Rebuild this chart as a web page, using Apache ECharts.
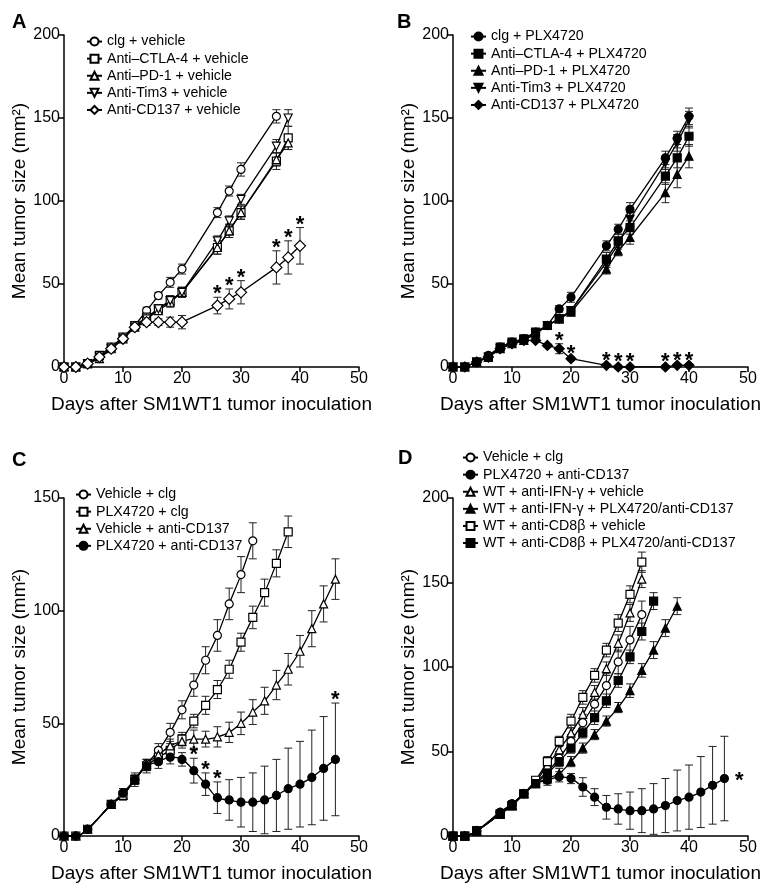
<!DOCTYPE html>
<html><head><meta charset="utf-8">
<script src="https://cdn.jsdelivr.net/npm/echarts@6/dist/echarts.min.js"></script>
<style>html,body{margin:0;padding:0;background:#fff}#c{width:775px;height:892px}</style>
</head><body><div id="c"></div>
<script>
// ---------- DATA ----------
const daysAB = [0,2,4,6,8,10,12,14,16,18,20,26,28,30,36,38,40];
const daysCD = [0,2,4,8,10,12,14,16,18,20,22,24,26,28,30,32,34,36,38,40,42,44,46];
const xTicks = [0,10,20,30,40,50];

// Panel A
const A_names = ['clg + vehicle','Anti\u2013CTLA-4 + vehicle','Anti\u2013PD-1 + vehicle','Anti-Tim3 + vehicle','Anti-CD137 + vehicle'];
const A_clg    = [0,0,2,6,11,17,25,34,43,51,59,93,106,119,151,null,null];
const A_clgE   = [0,0,1,1,1,1,1,2,2,3,3,3,3,4,4,null,null];
const A_ctla   = [0,0,2,7,12,18,25,30,35,40,45,72,82,93,124,138,null];
const A_ctlaE  = [0,0,1,1,1,1,1,2,2,3,3,4,4,4,5,7,null];
const A_pd1    = [0,0,2,5,11,17,24,29,34,39,45,72,82,93,125,135,null];
const A_pd1E   = [0,0,1,1,1,1,1,2,2,3,3,4,4,4,4,4,null];
const A_tim3   = [0,0,2,6,11,17,24,29,35,40,45,76,88,101,133,150,null];
const A_tim3E  = [0,0,1,1,1,1,1,2,2,3,3,3,3,3,4,5,null];
const A_cd137  = [0,0,2,6,11,17,24,27,27,27,27,37,41,45,60,66,73];
const A_cd137E = [0,0,1,1,1,1,1,2,2,3,4,5,6,7,10,10,11];
const A_stars  = [26,28,30,36,38,40];

// Panel B
const B_names = ['clg + PLX4720','Anti\u2013CTLA-4 + PLX4720','Anti\u2013PD-1 + PLX4720','Anti-Tim3 + PLX4720','Anti-CD137 + PLX4720'];
const B_clg    = [0,0,3,7,12,15,17,21,25,35,42,73,83,95,126,138,151];
const B_clgE   = [0,0,1,1,1,1,1,1,1,2,3,3,3,4,4,4,5];
const B_ctla   = [0,0,3,6,12,15,17,21,25,29,34,65,76,84,115,126,139];
const B_ctlaE  = [0,0,1,1,1,1,1,1,1,1,2,4,4,4,5,6,6];
const B_pd1    = [0,0,3,6,11,14,16,20,25,29,33,59,70,78,105,116,127];
const B_pd1E   = [0,0,1,1,1,1,1,1,1,1,2,3,3,4,6,8,7];
const B_tim3   = [0,0,3,6,11,14,16,20,25,29,34,63,74,89,123,135,149];
const B_tim3E  = [0,0,1,1,1,1,1,1,1,1,2,3,3,4,4,5,5];
const B_cd137  = [0,0,3,6,11,14,16,16,13,11,5,1,0,0,0,1,1];
const B_cd137E = [0,0,1,1,1,1,1,1,1,3,1,1,1,1,1,1,1];
const B_stars  = [18,20,26,28,30,36,38,40];

// Panel C
const C_names = ['Vehicle + clg','PLX4720 + clg','Vehicle + anti-CD137','PLX4720 + anti-CD137'];
const C_vehClg   = [0,0,3,14,19,25,32,38,46,56,67,78,89,103,116,131];
const C_vehClgE  = [0,0,1,1,2,2,2,3,4,4,5,6,7,7,8,8];
const C_plxClg   = [0,0,3,14,18,25,31,35,38,43,51,58,65,74,86,97,108,121,135];
const C_plxClgE  = [0,0,1,1,2,3,3,3,3,3,3,4,4,4,4,5,6,6,7];
const C_vehCd    = [0,0,3,14,18,25,32,36,40,42,43,43,44,46,50,55,60,67,74,82,92,103,114];
const C_vehCdE   = [0,0,1,1,2,2,2,3,3,3,4,3.5,4.5,4.5,5,5.5,6,6.5,7,7,8,8,9];
const C_plxCd    = [0,0,3,14,19,25,31,33,35,34,29,23,17,16,15,15,16,18,21,23,26,30,34];
const C_plxCdE   = [0,0,1,1,2,2,2,3,3,3,5.5,5,7,9,11,13,15,16,18,19,21,23,25];
const C_stars    = [22,24,26,46];

// Panel D
const D_names = ['Vehicle + clg','PLX4720 + anti-CD137','WT + anti-IFN-\u03b3 + vehicle','WT + anti-IFN-\u03b3 + PLX4720/anti-CD137','WT + anti-CD8\u03b2 + vehicle','WT + anti-CD8\u03b2 + PLX4720/anti-CD137'];
const D_vehClg   = [0,0,3,14,19,25,32,38,46,56,67,78,89,103,116,131];
const D_vehClgE  = [0,0,1,1,2,2,2,3,4,4,5,6,7,7,8,8];
const D_plxCd    = [0,0,3,14,19,25,31,33,35,34,29,23,17,16,15,15,16,18,21,23,26,30,34];
const D_plxCdE   = [0,0,1,1,2,2,2,3,3,3,5.5,5,7,9,11,13,15,16,18,19,21,23,25];
const D_ifnVeh   = [0,0,3,14,18,25,32,42,51,61,72,85,99,114,132,152];
const D_ifnVehE  = [0,0,1,1,2,2,2,3,3,3,4,4,4,5,5,5];
const D_ifnPlx   = [0,0,3,13,18,25,31,34,37,44,52,60,68,76,86,98,110,123,136];
const D_ifnPlxE  = [0,0,1,1,2,2,2,3,3,3,3,3,3,3,4,4,5,5,5];
const D_cd8Veh   = [0,0,3,13,18,25,33,44,56,68,82,95,110,126,143,162];
const D_cd8VehE  = [0,0,1,1,2,2,2,3,3,4,4,4,4,5,5,6];
const D_cd8Plx   = [0,0,3,13,18,25,31,37,44,52,61,70,80,92,106,121,139];
const D_cd8PlxE  = [0,0,1,1,2,2,2,3,3,3,3,4,4,4,4,5,5];
const D_stars    = [46];

// ---------- BUILD ----------
const FONT = '"Liberation Sans", Arial, Helvetica, sans-serif';
const DOWN_TRI = 'path://M0,0L20,0L10,18Z';
const SYM = {
  oc:['circle',false,8], os:['rect',false,8], ot:['triangle',false,8], od:[DOWN_TRI,false,8], odi:['diamond',false,11],
  fc:['circle',true,8],  fs:['rect',true,8],  ft:['triangle',true,8],  fd:[DOWN_TRI,true,8],  fdi:['diamond',true,10]
};
const grids = [
  {left:64, top:35, width:295, height:332},
  {left:453, top:35, width:295, height:332},
  {left:64, top:498, width:295, height:338},
  {left:453, top:498, width:295, height:338}
];
const yMax = [200,200,150,200];
const series = [];

function pts(days, vals, errs){
  const out=[];
  days.forEach((d,i)=>{ if(vals[i]!=null) out.push([d, vals[i], errs[i]]); });
  return out;
}
function addSeries(g, name, days, vals, errs, symKey, smooth){
  const s = SYM[symKey];
  const data = pts(days, vals, errs);
  series.push({
    type:'custom', xAxisIndex:g, yAxisIndex:g, z:1, silent:true,
    data:data, encode:{x:0,y:1},
    renderItem:function(params, api){
      const x=api.value(0), v=api.value(1), e=api.value(2);
      if(!e) return null;
      const t=api.coord([x, v+e]), b=api.coord([x, v-e]), w=4;
      const st={stroke:'#222', lineWidth:1};
      return {type:'group', children:[
        {type:'line', shape:{x1:t[0],y1:t[1],x2:b[0],y2:b[1]}, style:st},
        {type:'line', shape:{x1:t[0]-w,y1:t[1],x2:t[0]+w,y2:t[1]}, style:st},
        {type:'line', shape:{x1:b[0]-w,y1:b[1],x2:b[0]+w,y2:b[1]}, style:st}
      ]};
    }
  });
  series.push({
    type:'line', name:name, xAxisIndex:g, yAxisIndex:g, z:3,
    data:data.map(p=>[p[0],p[1]]),
    smooth: smooth ? 0.35 : false,
    symbol:s[0], symbolSize:s[2], showSymbol:true,
    lineStyle:{color:'#000', width:1.3},
    itemStyle:{color: s[1] ? '#000' : '#fff', borderColor:'#000', borderWidth:1.2},
    emphasis:{disabled:true}
  });
}
function addStars(g, days, vals, errs, starDays, side){
  const data = starDays.map(d=>{ const i=days.indexOf(d); return [d, vals[i]+(errs[i]||0), vals[i]]; });
  series.push({
    type:'custom', xAxisIndex:g, yAxisIndex:g, z:4, silent:true,
    data:data, encode:{x:0,y:1},
    renderItem:function(params, api){
      const d=api.value(0), top=api.value(1), mid=api.value(2);
      let p, ox=0, oy=0;
      if(side==='right'){ p=api.coord([d, mid]); ox=15; oy=2; }
      else { p=api.coord([d, top]); oy=-3; }
      return {type:'text', x:p[0]+ox, y:p[1]+oy, style:{text:'*', fontSize:22, fontWeight:'bold', fontFamily:FONT, fill:'#000', align:'center', verticalAlign:'middle'}};
    }
  });
}

// A
addSeries(0, A_names[0], daysAB, A_clg, A_clgE, 'oc', false);
addSeries(0, A_names[1], daysAB, A_ctla, A_ctlaE, 'os', false);
addSeries(0, A_names[2], daysAB, A_pd1, A_pd1E, 'ot', false);
addSeries(0, A_names[3], daysAB, A_tim3, A_tim3E, 'od', false);
addSeries(0, A_names[4], daysAB, A_cd137, A_cd137E, 'odi', false);
addStars(0, daysAB, A_cd137, A_cd137E, A_stars);
// B
addSeries(1, B_names[0], daysAB, B_clg, B_clgE, 'fc', false);
addSeries(1, B_names[1], daysAB, B_ctla, B_ctlaE, 'fs', false);
addSeries(1, B_names[2], daysAB, B_pd1, B_pd1E, 'ft', false);
addSeries(1, B_names[3], daysAB, B_tim3, B_tim3E, 'fd', false);
addSeries(1, B_names[4], daysAB, B_cd137, B_cd137E, 'fdi', false);
addStars(1, daysAB, B_cd137, B_cd137E, B_stars);
// C
addSeries(2, C_names[0], daysCD, C_vehClg, C_vehClgE, 'oc', true);
addSeries(2, C_names[1], daysCD, C_plxClg, C_plxClgE, 'os', true);
addSeries(2, C_names[2], daysCD, C_vehCd, C_vehCdE, 'ot', true);
addSeries(2, C_names[3], daysCD, C_plxCd, C_plxCdE, 'fc', true);
addStars(2, daysCD, C_plxCd, C_plxCdE, C_stars);
// D
addSeries(3, D_names[0], daysCD, D_vehClg, D_vehClgE, 'oc', true);
addSeries(3, D_names[1], daysCD, D_plxCd, D_plxCdE, 'fc', true);
addSeries(3, D_names[2], daysCD, D_ifnVeh, D_ifnVehE, 'ot', true);
addSeries(3, D_names[3], daysCD, D_ifnPlx, D_ifnPlxE, 'ft', true);
addSeries(3, D_names[4], daysCD, D_cd8Veh, D_cd8VehE, 'os', true);
addSeries(3, D_names[5], daysCD, D_cd8Plx, D_cd8PlxE, 'fs', true);
addStars(3, daysCD, D_plxCd, D_plxCdE, D_stars, 'right');

const axisLineStyle = {color:'#000', width:1.5};
const xAxes = grids.map((g,i)=>({
  gridIndex:i, type:'value', min:xTicks[0], max:xTicks[xTicks.length-1], interval:10,
  axisLine:{show:true, onZero:false, lineStyle:axisLineStyle},
  axisTick:{show:true, length:5, lineStyle:axisLineStyle},
  axisLabel:{color:'#000', fontSize:16, fontFamily:FONT, margin:4},
  splitLine:{show:false},
  name:'Days after SM1WT1 tumor inoculation', nameLocation:'middle', nameGap:28,
  nameTextStyle:{fontSize:19, color:'#000', fontFamily:FONT}
}));
const yAxes = grids.map((g,i)=>({
  gridIndex:i, type:'value', min:0, max:yMax[i], interval:50,
  axisLine:{show:true, onZero:false, lineStyle:axisLineStyle},
  axisTick:{show:true, length:5, lineStyle:axisLineStyle},
  axisLabel:{color:'#000', fontSize:16, fontFamily:FONT, margin:4},
  splitLine:{show:false},
  name:'Mean tumor size (mm\u00b2)', nameLocation:'middle', nameGap:35, nameRotate:90,
  nameTextStyle:{fontSize:19, color:'#000', fontFamily:FONT}
}));
const legendBase = {orient:'vertical', itemWidth:15, itemHeight:10, itemGap:0, selectedMode:false,
  textStyle:{fontSize:14.2, color:'#000', fontFamily:FONT, lineHeight:17.1}, padding:0};
const legends = [
  Object.assign({left:86, top:33, data:A_names}, legendBase),
  Object.assign({left:470, top:28, data:B_names}, legendBase),
  Object.assign({left:75, top:486, data:C_names}, legendBase),
  Object.assign({left:462, top:449, data:D_names}, legendBase)
];
const letters = [['A',12,12],['B',397,12],['C',12,450],['D',398,448]];

const chart = echarts.init(document.getElementById('c'), null, {renderer:'canvas'});
chart.setOption({
  animation:false,
  backgroundColor:'#fff',
  grid:grids,
  xAxis:xAxes,
  yAxis:yAxes,
  legend:legends,
  graphic:letters.map(l=>({type:'text', left:l[1], top:l[2], style:{text:l[0], fontSize:20, fontWeight:'bold', fontFamily:FONT, fill:'#000'}})),
  series:series
});
</script></body></html>
